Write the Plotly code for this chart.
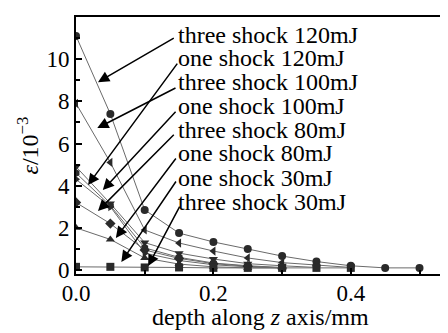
import plotly.graph_objects as go

depth = [0.0, 0.05, 0.1, 0.15, 0.2, 0.25, 0.3, 0.35, 0.4, 0.45, 0.5]

names = ["three shock 120mJ", "one shock 120mJ", "three shock 100mJ", "one shock 100mJ",
         "three shock 80mJ", "one shock 80mJ", "one shock 30mJ", "three shock 30mJ"]

three_120 = [11.1, 7.4, 2.85, 1.75, 1.33, 1.0, 0.66, 0.4, 0.2, 0.1, 0.1]
one_120 = [7.9, 5.1, 1.9, 1.28, 0.9, 0.57, 0.35, 0.22, 0.12]
three_100 = [4.9, 3.15, 1.3, 0.8, 0.52, 0.3, 0.2, 0.12]
one_100 = [4.6, 3.05, 1.05, 0.6, 0.33, 0.2, 0.12]
three_80 = [4.3, 3.0, 0.8, 0.45, 0.25, 0.15, 0.1]
one_80 = [3.2, 2.2, 0.95, 0.55, 0.3, 0.18, 0.1]
one_30 = [2.0, 1.45, 0.57, 0.28, 0.15, 0.1, 0.1]
three_30 = [0.15, 0.15, 0.12, 0.12, 0.1, 0.1, 0.1, 0.1, 0.1]

series = [three_120, one_120, three_100, one_100, three_80, one_80, one_30, three_30]
symbols = ["circle", "triangle-left", "triangle-down", "hexagon", "triangle-right",
           "diamond", "triangle-up", "square"]

# label positions (text left, centre) and arrow tail/head
label_x = 0.1475
label_y = [11.14, 10.05, 8.91, 7.77, 6.64, 5.55, 4.36, 3.22]
tail_x = [0.1445, 0.149, 0.147, 0.147, 0.1445, 0.147, 0.147, 0.152]
tail_y = [11.04, 9.86, 8.67, 7.58, 6.49, 5.36, 4.27, 3.08]
head_x = [0.032, 0.0175, 0.031, 0.039, 0.032, 0.058, 0.066, 0.105]
head_y = [8.91, 4.03, 6.73, 3.79, 2.80, 1.52, 0.38, 0.19]

x_title = "depth along <i>z</i> axis/mm"
y_title = "<i>ε</i>/10<sup>−3</sup>"

FONT = "Times New Roman, Liberation Serif, Times, serif"

fig = go.Figure()
for name, vals, sym in zip(names, series, symbols):
    fig.add_trace(go.Scatter(
        x=depth[:len(vals)], y=vals, name=name, mode="lines+markers",
        line=dict(color="#6a6a6a", width=1),
        marker=dict(symbol=sym, size=8, color="#2a2a2a", line=dict(width=0)),
        showlegend=False,
    ))

for i, name in enumerate(names):
    fig.add_annotation(x=label_x, y=label_y[i], text=name, showarrow=False,
                       xanchor="left", yanchor="middle", borderpad=0,
                       font=dict(family=FONT, size=24, color="black"))
    fig.add_annotation(x=head_x[i], y=head_y[i], ax=tail_x[i], ay=tail_y[i],
                       axref="x", ayref="y", text="", showarrow=True,
                       arrowhead=2, arrowsize=1.5, arrowwidth=1.5, arrowcolor="black")

# axis titles placed as paper annotations
fig.add_annotation(x=0.496, y=-0.167, xref="paper", yref="paper", text=x_title,
                   showarrow=False, xanchor="center", yanchor="middle", borderpad=0,
                   font=dict(family=FONT, size=24, color="black"))
fig.add_annotation(x=-0.132, y=0.5, xref="paper", yref="paper", text=y_title,
                   showarrow=False, xanchor="center", yanchor="middle", textangle=-90,
                   font=dict(family=FONT, size=24, color="black"))

# the page body adds an 8px margin, so the figure is sized/offset to compensate
fig.update_layout(
    width=440, height=325,
    margin=dict(l=68, r=1, t=9, b=59),
    paper_bgcolor="white", plot_bgcolor="white",
    font=dict(family=FONT, size=23, color="black"),
)
fig.update_xaxes(
    range=[0, 0.54], tickvals=[0.0, 0.2, 0.4], ticktext=["0.0", "0.2", "0.4"],
    ticks="inside", ticklen=6, tickwidth=1.5, tickcolor="black",
    minor=dict(dtick=0.1, tick0=0, ticks="inside", ticklen=4, tickcolor="black"),
    showline=True, linecolor="black", linewidth=2, mirror=True, showgrid=False, zeroline=False,
    tickfont=dict(size=23), automargin=False, ticklabelstandoff=-3,
)
fig.update_yaxes(
    range=[-0.19, 12], tickvals=[0, 2, 4, 6, 8, 10, 12],
    ticks="inside", ticklen=6, tickwidth=1.5, tickcolor="black",
    minor=dict(dtick=1, tick0=0, ticks="inside", ticklen=4, tickcolor="black"),
    showline=True, linecolor="black", linewidth=2, mirror=True, showgrid=False, zeroline=False,
    tickfont=dict(size=23), automargin=False,
)

fig.write_html("out.html")
